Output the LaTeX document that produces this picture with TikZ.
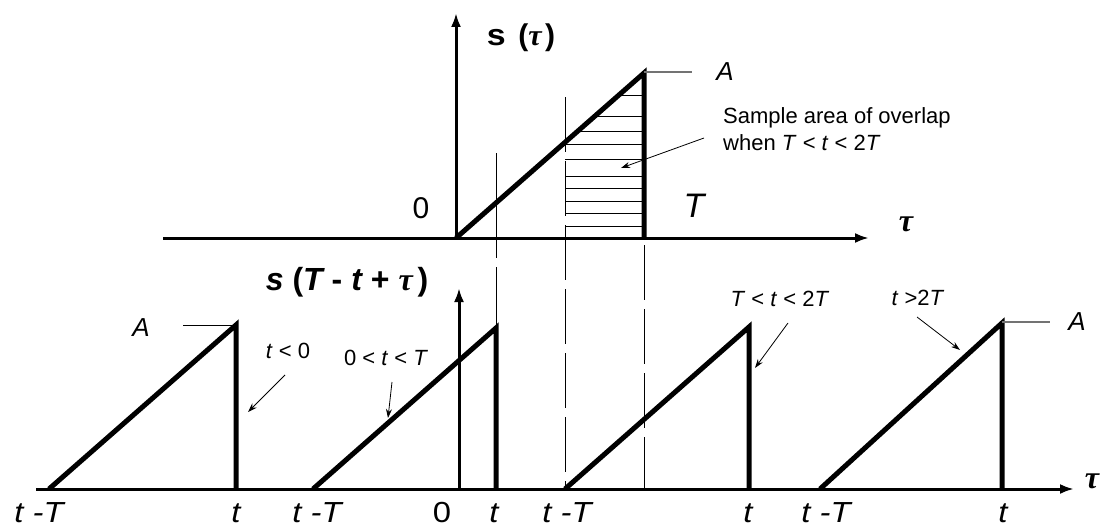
\documentclass[tikz,border=0pt]{standalone}
\usepackage{graphicx}
\usepackage{fontspec}
\setmainfont{Liberation Sans}
\newfontfamily\tauserif{Liberation Serif}
\usetikzlibrary{arrows.meta}
\newcommand\mytau{{\tauserif\itshape\bfseries τ}}
\newcommand\wide[1]{\scalebox{1.13}[1]{#1}}
\tikzset{
  ramp/.style={line width=5pt,line join=miter},
  axisln/.style={line width=3pt,-{Latex[length=14pt,width=10pt]}},
  thinln/.style={line width=1pt},
  grayln/.style={line width=1.2pt,black!55},
  dashln/.style={line width=1pt,dash pattern=on 55pt off 9pt},
  hatchln/.style={line width=0.9pt},
  notearrow/.style={line width=0.8pt,-{Stealth[length=9pt,width=6pt]}},
  itlbl/.style={inner sep=0pt,font=\fontsize{#1}{#1}\selectfont\itshape},
  uplbl/.style={inner sep=0pt,font=\fontsize{#1}{#1}\selectfont},
  bdlbl/.style={inner sep=0pt,font=\fontsize{#1}{#1}\selectfont\bfseries},
}
\begin{document}
\begin{tikzpicture}[x=1pt,y=-1pt]
\useasboundingbox (0,0) rectangle (1106,527);

% ---------- coordinates ----------
\coordinate (hL) at (163,238);  \coordinate (hR) at (869,238);
\coordinate (vB) at (456,238);  \coordinate (vT) at (456,13);
\coordinate (bL) at (36,489);   \coordinate (bR) at (1074,489);
\coordinate (wB) at (459,489);  \coordinate (wT) at (459,288);

% ---------- dashed guides ----------
\draw[dashln] (565,97) -- (565,489);
\draw[dashln] (644,245) -- (644,489);
\draw[thinln,dash pattern=on 105pt off 9pt] (496,153) -- (496,328);

% ---------- hatching ----------
\foreach \yy in {95,116,131,144,159,176,188,201,213,226}{
  \pgfmathsetmacro\xs{max(565,456+(238-\yy)/165*188)}
  \draw[hatchln] (\xs,\yy) -- (644,\yy);
}

% ---------- top pulse ----------
\draw[ramp] (456,238) -- (644,73) -- (644,238);
\draw[grayln] (644,72) -- (692,72);

% ---------- bottom pulses ----------
\draw[ramp] (49,489) -- (236,325) -- (236,489);
\draw[ramp] (313,489) -- (496,328) -- (496,489);
\draw[ramp] (565,489) -- (749,327) -- (749,489);
\draw[ramp] (820,489) -- (1002,323) -- (1002,489);
\draw[thinln] (183,325) -- (236,325);
\draw[grayln] (1002,322) -- (1050,322);

% ---------- axes ----------
\draw[axisln] (hL) -- (hR);
\draw[axisln] (vB) -- (vT);
\draw[axisln] (bL) -- (bR);
\draw[axisln] (wB) -- (wT);

% ---------- top labels ----------
\node[bdlbl=30] (stau) at (521,38) {\wide{s}\kern0.42em(\mytau\kern0.12em)};
\node[uplbl=30] (zero1) at (421,208) {0};
\node[itlbl=26] (A1) at (725,72) {A};
\node[itlbl=34] (T1) at (694,206) {T};
\node[uplbl=32] (tau1) at (906,224) {\mytau};

\node[uplbl=22,anchor=base west] (samp1) at (723,123) {Sample area of overlap};
\node[uplbl=22,anchor=base west] (samp2) at (723,150) {when \textit{T} < \textit{t} < 2\textit{T}};
\coordinate (sa0) at (704,138); \coordinate (sa1) at (621,168);
\draw[notearrow] (sa0) -- (sa1);

% ---------- bottom labels ----------
\node[bdlbl=32] (sbot) at (347,282) {\itshape s\kern0.28em\upshape(\itshape T\kern0.28em\upshape-\kern0.28em\itshape t\kern0.28em\upshape+\kern0.28em\mytau\kern0.15em)};
\node[itlbl=26] (A2) at (141,328) {A};
\node[itlbl=26] (A3) at (1077,322) {A};
\node[uplbl=32] (tau2) at (1092,481) {\mytau};

\node[uplbl=22] (c1) at (288,351) {\textit{t} < 0};
\node[uplbl=22] (c2) at (386,358) {0 < \textit{t} < \textit{T}};
\node[uplbl=22] (c3) at (780,299) {\textit{T} < \textit{t} < 2\textit{T}};
\node[uplbl=22] (c4) at (918,298) {\textit{t} >2\textit{T}};

\coordinate (a1s) at (285,375); \coordinate (a1e) at (248,412);
\coordinate (a2s) at (392,382); \coordinate (a2e) at (388,418);
\coordinate (a3s) at (788,323); \coordinate (a3e) at (755,368);
\coordinate (a4s) at (917,317); \coordinate (a4e) at (960,350);
\draw[notearrow] (a1s) -- (a1e);
\draw[notearrow] (a2s) -- (a2e);
\draw[notearrow] (a3s) -- (a3e);
\draw[notearrow] (a4s) -- (a4e);

\node[itlbl=29] (l1) at (39,513) {\wide{t -T}};
\node[itlbl=29] (l2) at (236,513) {\wide{t}};
\node[itlbl=29] (l3) at (317,513) {\wide{t -T}};
\node[uplbl=29] (l4) at (442,513) {\wide{0}};
\node[itlbl=29] (l5) at (494,513) {\wide{t}};
\node[itlbl=29] (l6) at (567,513) {\wide{t -T}};
\node[itlbl=29] (l7) at (748,513) {\wide{t}};
\node[itlbl=29] (l8) at (826,513) {\wide{t -T}};
\node[itlbl=29] (l9) at (1003,513) {\wide{t}};
\end{tikzpicture}
\end{document}
